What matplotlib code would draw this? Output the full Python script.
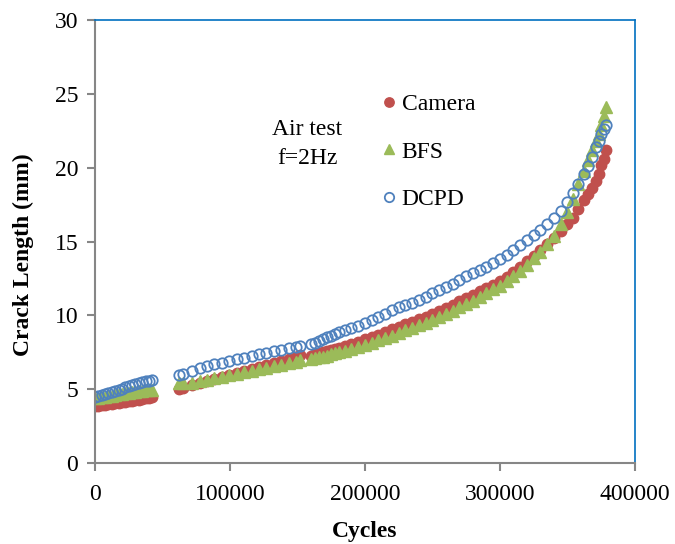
import matplotlib
matplotlib.use("Agg")
import matplotlib.pyplot as plt

plt.rcParams['font.family'] = ['Liberation Serif', 'DejaVu Serif']

cycles = [0, 2500, 5000, 7500, 10000, 12500, 15000, 17500, 20000, 22500,
          25000, 27500, 30000, 32500, 35000, 37500, 40000, 42500,
          62000, 65000, 72000, 77500, 83000, 88500, 94000, 99500, 105000,
          110500, 116000, 121500, 127000, 132500, 138000, 143500, 149000, 152000,
          160000, 163000, 166000, 169000, 172000, 175000, 178000, 181000,
          185000, 190000, 195000, 200000, 205000, 210000, 215000, 220000,
          225000, 230000, 235000, 240000, 245000, 250000, 255000, 260000,
          265000, 270000, 275000, 280000, 285000, 290000, 295000, 300000,
          305000, 310000, 315000, 320000, 325000, 330000, 335000, 340000,
          345000, 350000, 354000, 358000, 362000, 365000, 368000, 371000,
          373000, 375000, 377000, 378500]

camera = [3.85, 3.88, 3.92, 3.95, 3.98, 4.02, 4.05, 4.08, 4.12, 4.15,
          4.18, 4.22, 4.26, 4.30, 4.34, 4.38, 4.42, 4.46,
          5.00, 5.05, 5.30, 5.45, 5.58, 5.72, 5.85, 5.98, 6.10,
          6.23, 6.37, 6.50, 6.62, 6.75, 6.88, 7.02, 7.15, 7.30,
          7.25, 7.35, 7.42, 7.50, 7.58, 7.65, 7.72, 7.80,
          7.90, 8.05, 8.20, 8.40, 8.55, 8.70, 8.85, 9.05,
          9.20, 9.40, 9.55, 9.72, 9.90, 10.10, 10.30, 10.50,
          10.72, 10.95, 11.18, 11.40, 11.62, 11.85, 12.08, 12.35,
          12.62, 12.95, 13.30, 13.65, 14.00, 14.40, 14.80, 15.25,
          15.70, 16.20, 16.60, 17.20, 17.80, 18.20, 18.60, 19.10,
          19.60, 20.20, 20.60, 21.20]

bfs = [4.40, 4.42, 4.45, 4.48, 4.52, 4.56, 4.60, 4.64, 4.68, 4.72,
       4.76, 4.80, 4.84, 4.88, 4.90, 4.92, 4.94, 4.95,
       5.40, 5.40, 5.45, 5.55, 5.65, 5.75, 5.85, 5.95, 6.05,
       6.15, 6.25, 6.35, 6.45, 6.55, 6.65, 6.75, 6.85, 7.00,
       7.05, 7.10, 7.15, 7.20, 7.28, 7.35, 7.42, 7.50,
       7.58, 7.70, 7.85, 8.00, 8.15, 8.30, 8.45, 8.62,
       8.80, 8.98, 9.15, 9.32, 9.50, 9.70, 9.90, 10.10,
       10.32, 10.55, 10.78, 11.00, 11.25, 11.50, 11.75, 12.00,
       12.30, 12.65, 13.00, 13.40, 13.85, 14.30, 14.80, 15.40,
       16.20, 17.00, 17.90, 18.90, 19.80, 20.50, 21.20, 21.80,
       22.30, 22.90, 23.50, 24.10]

dcpd = [4.50, 4.52, 4.58, 4.65, 4.72, 4.80, 4.88, 4.96, 5.04, 5.12,
        5.20, 5.28, 5.35, 5.42, 5.48, 5.53, 5.58, 5.62,
        5.95, 6.00, 6.25, 6.40, 6.55, 6.68, 6.80, 6.92, 7.03,
        7.14, 7.25, 7.36, 7.46, 7.56, 7.66, 7.76, 7.86, 7.95,
        8.05, 8.15, 8.25, 8.40, 8.50, 8.60, 8.75, 8.85,
        9.00, 9.15, 9.30, 9.50, 9.70, 9.90, 10.10, 10.35,
        10.55, 10.70, 10.85, 11.05, 11.25, 11.50, 11.70, 11.90,
        12.15, 12.40, 12.65, 12.90, 13.10, 13.30, 13.55, 13.80,
        14.10, 14.40, 14.75, 15.10, 15.45, 15.80, 16.20, 16.60,
        17.10, 17.70, 18.30, 18.90, 19.60, 20.10, 20.70, 21.40,
        21.80, 22.30, 22.60, 22.90]

RED = '#C0504D'
GREEN = '#9BBB59'
BLUE = '#4F81BD'
GRAY = '#868686'

fig = plt.figure(figsize=(6.75, 5.44), dpi=100)
ax = fig.add_axes([0.1407, 0.1489, 0.80, 0.8143])

ax.plot(cycles, camera, 'o', color=RED, ms=7.5, mec=RED, label='Camera')
ax.plot(cycles, bfs, '^', color=GREEN, ms=8, mec=GREEN, label='BFS')
ax.plot(cycles, dcpd, 'o', mfc='none', mec=BLUE, mew=1.3, ms=7.5, label='DCPD')

ax.set_xlim(0, 400000)
ax.set_ylim(0, 30)
ax.set_xticks([0, 100000, 200000, 300000, 400000])
ax.set_yticks([0, 5, 10, 15, 20, 25, 30])

for side in ['left', 'bottom']:
    ax.spines[side].set_color(GRAY)
    ax.spines[side].set_linewidth(1.5)
for side in ['top', 'right']:
    ax.spines[side].set_color('#0070C0')
    ax.spines[side].set_linewidth(1.2)

ax.tick_params(direction='out', length=6, width=1.5, color=GRAY, labelsize=17)
ax.tick_params(axis='x', pad=9)
ax.tick_params(axis='y', pad=6)
ax.set_xlabel('Cycles', fontsize=17, fontweight='bold', labelpad=12)
ax.set_ylabel('Crack Length (mm)', fontsize=17, fontweight='bold')
ax.yaxis.set_label_coords(-0.112, 0.47)

ax.text(0.393, 0.72, 'Air test\nf=2Hz', transform=ax.transAxes, ha='center',
        va='center', fontsize=17, linespacing=1.5)

ax.legend(loc='upper left', bbox_to_anchor=(0.485, 0.882), frameon=False,
          fontsize=17, labelspacing=1.1, handletextpad=0.1, handlelength=0.9,
          markerscale=0.9)

fig.savefig('out.png', dpi=100)
